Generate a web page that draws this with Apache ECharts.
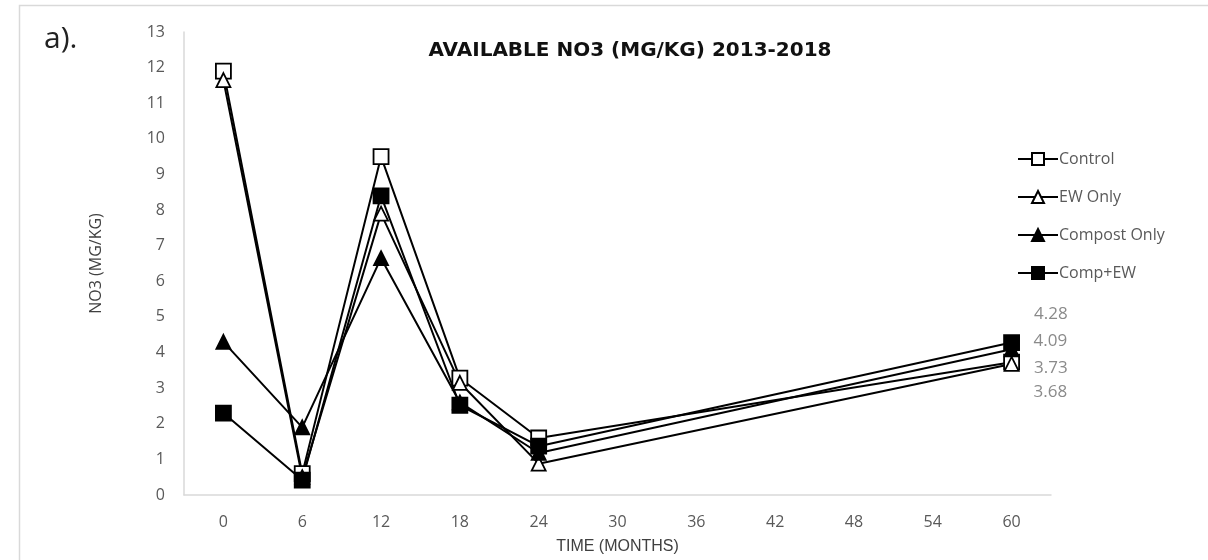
<!DOCTYPE html>
<html>
<head>
<meta charset="utf-8">
<script src="https://cdn.jsdelivr.net/npm/echarts@6/dist/echarts.min.js"></script>
<style>
html,body{margin:0;padding:0;background:#fff;}
#chart{width:1208px;height:560px;}
</style>
</head>
<body>
<div id="chart"></div>
<script>
var categories = ['0','6','12','18','24','30','36','42','48','54','60'];
var control     = [11.9, 0.6, 9.5, 3.28, 1.6, null, null, null, null, null, 3.73];
var ewOnly      = [11.65, 0.5, 7.9, 3.15, 0.88, null, null, null, null, null, 3.68];
var compostOnly = [4.3, 1.9, 6.65, 2.6, 1.18, null, null, null, null, null, 4.09];
var compEw      = [2.3, 0.42, 8.4, 2.52, 1.37, null, null, null, null, null, 4.28];
var seriesNames = ['Control', 'EW Only', 'Compost Only', 'Comp+EW'];
var yTicks = {min: 0, max: 13, interval: 1};

var chart = echarts.init(document.getElementById('chart'));

function mk(name, data, symbol, fill, size, labelDy) {
  var d = data.map(function (v, i) {
    if (i === data.length - 1 && v != null) {
      return {value: v, label: {show: true, position: 'right', distance: 14, offset: [0, labelDy],
        formatter: function (p) { return p.value.toFixed(2); },
        color: '#8a8a8a', fontSize: 17, fontFamily: 'Open Sans'}};
    }
    return v;
  });
  return {
    name: name, type: 'line', data: d, connectNulls: true,
    symbol: symbol, symbolSize: size, showAllSymbol: true,
    lineStyle: {color: '#000', width: 2},
    itemStyle: {color: fill, borderColor: '#000', borderWidth: 1.8},
    emphasis: {disabled: true}, animation: false
  };
}

chart.setOption({
  animation: false,
  backgroundColor: '#fff',
  graphic: [
    {type: 'rect', shape: {x: 19.5, y: 5.5, width: 1200, height: 600}, style: {fill: 'none', stroke: '#d9d9d9', lineWidth: 1.5}, z: -1},
    {type: 'text', left: 44, top: 24, style: {text: 'a).', font: '30px "Open Sans"', fill: '#222'}}
  ],
  title: {
    text: 'AVAILABLE NO3 (MG/KG) 2013-2018',
    left: 625, top: 36, textAlign: 'center',
    textStyle: {fontFamily: 'DejaVu Sans', fontWeight: 'bold', fontSize: 20, color: '#111'}
  },
  legend: {
    orient: 'vertical', left: 1012, top: 146, itemGap: 22, itemWidth: 40, itemHeight: 15,
    data: seriesNames,
    textStyle: {fontFamily: 'Open Sans', fontSize: 16, color: '#595959', padding: [0, 0, 0, -4]}
  },
  grid: {left: 184, right: 157, top: 32, bottom: 64, containLabel: false},
  xAxis: {
    type: 'category', data: categories, boundaryGap: true,
    name: 'TIME (MONTHS)', nameLocation: 'middle', nameGap: 44,
    nameTextStyle: {fontFamily: 'Liberation Sans', fontSize: 16, color: '#404040'},
    axisLine: {lineStyle: {color: '#d9d9d9', width: 1.5}},
    axisTick: {show: false},
    axisLabel: {fontFamily: 'Open Sans', fontSize: 16, color: '#595959', margin: 19},
    splitLine: {show: false}
  },
  yAxis: {
    type: 'value', min: yTicks.min, max: yTicks.max, interval: yTicks.interval,
    name: 'NO3 (MG/KG)', nameLocation: 'middle', nameGap: 80, nameRotate: 90,
    nameTextStyle: {fontFamily: 'Open Sans', fontSize: 16, color: '#404040'},
    axisLine: {show: true, lineStyle: {color: '#d9d9d9', width: 1.5}},
    axisTick: {show: false},
    axisLabel: {fontFamily: 'Open Sans', fontSize: 16, color: '#595959', margin: 19},
    splitLine: {show: false}
  },
  series: [
    mk('Control', control, 'rect', '#fff', 15, 6),
    mk('EW Only', ewOnly, 'triangle', '#fff', 14, 28),
    mk('Compost Only', compostOnly, 'triangle', '#000', 14, -8),
    mk('Comp+EW', compEw, 'rect', '#000', 15, -28)
  ]
});
</script>
</body>
</html>
